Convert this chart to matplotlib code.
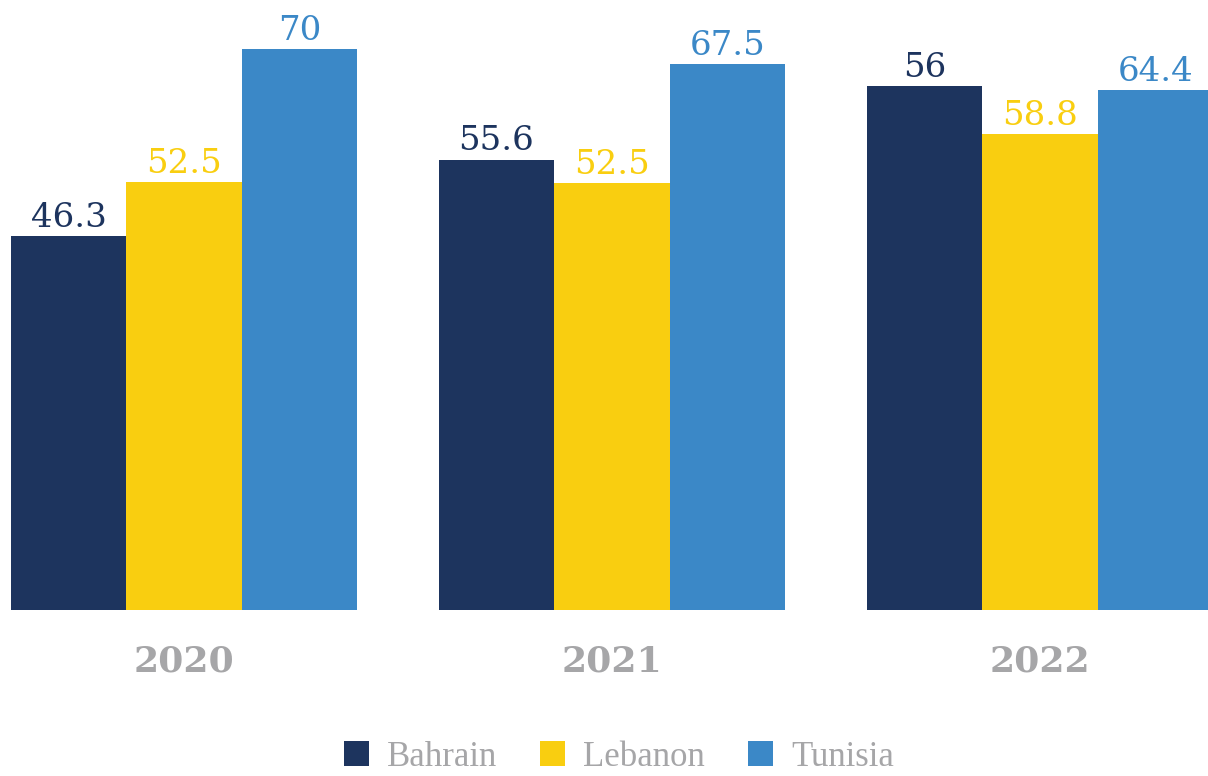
import matplotlib
matplotlib.use("Agg")
import matplotlib.pyplot as plt
import numpy as np
from matplotlib.patches import Rectangle

years = ["2020", "2021", "2022"]
countries = ["Bahrain", "Lebanon", "Tunisia"]
# bar heights as drawn in the picture
bahrain = [46.7, 56.2, 65.4]
lebanon = [53.4, 53.3, 59.4]
tunisia = [70.0, 68.1, 64.9]
# value labels as printed
bahrain_labels = ["46.3", "55.6", "56"]
lebanon_labels = ["52.5", "52.5", "58.8"]
tunisia_labels = ["70", "67.5", "64.4"]

colors = ["#1D345E", "#F9CE10", "#3B88C7"]
grey = "#A6A6A8"

fig = plt.figure(figsize=(12.08, 7.76), dpi=100)
ax = fig.add_axes([0, (776 - 610) / 776, 1, 610 / 776])

x = np.arange(len(years))
w = 0.27
series = [bahrain, lebanon, tunisia]
labels = [bahrain_labels, lebanon_labels, tunisia_labels]
handles = []
for i, (vals, labs, c, name) in enumerate(zip(series, labels, colors, countries)):
    pos = x + (i - 1) * w
    ax.bar(pos, vals, width=w, color=c, linewidth=0, label=name)
    handles.append(Rectangle((0, 0), 1, 1, facecolor=c, linewidth=0))
    for p, v, t in zip(pos, vals, labs):
        ax.annotate(t, (p, v), xytext=(0, 6.5), textcoords="offset points",
                    ha="center", va="baseline", color=c,
                    fontsize=24.5, family="DejaVu Serif", annotation_clip=False)

px_per_unit = 610 / 76.1
for xi, yr in zip(x, years):
    ax.text(xi, -51 / px_per_unit, yr, ha="center", va="center",
            fontsize=26, fontweight="bold", family="DejaVu Serif",
            color=grey, clip_on=False)

ax.set_xlim(-0.43, 2.393)
ax.set_ylim(0, 76.1)
ax.axis("off")

leg = fig.legend(handles, countries, loc="lower center",
                 bbox_to_anchor=(0.5124, 0.003), ncol=3, frameon=False,
                 prop={"family": "Liberation Serif", "size": 25},
                 labelcolor=grey, handlelength=0.72, handleheight=0.75,
                 handletextpad=0.52, columnspacing=1.25, borderpad=0,
                 borderaxespad=0)

fig.savefig("out.png", dpi=100)
